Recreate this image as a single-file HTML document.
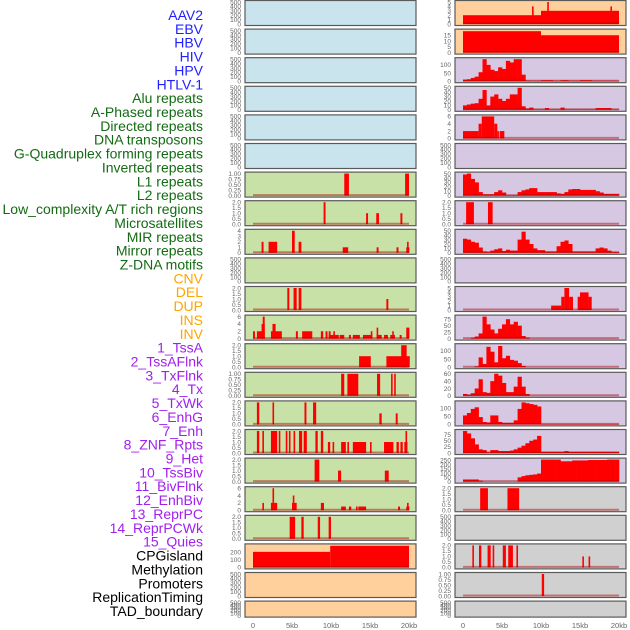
<!DOCTYPE html>
<html><head><meta charset="utf-8"><style>
html,body{margin:0;padding:0;background:#fff;width:630px;height:630px;overflow:hidden}
svg{display:block}
</style></head><body>
<svg id="chart" width="630" height="630" xmlns="http://www.w3.org/2000/svg" font-family="Liberation Sans, sans-serif"></svg>
<script>
// ---------- data ----------
const labels = ["AAV2","EBV","HBV","HIV","HPV","HTLV-1","Alu repeats","A-Phased repeats","Directed repeats","DNA transposons","G-Quadruplex forming repeats","Inverted repeats","L1 repeats","L2 repeats","Low_complexity A/T rich regions","Microsatellites","MIR repeats","Mirror repeats","Z-DNA motifs","CNV","DEL","DUP","INS","INV","1_TssA","2_TssAFlnk","3_TxFlnk","4_Tx","5_TxWk","6_EnhG","7_Enh","8_ZNF_Rpts","9_Het","10_TssBiv","11_BivFlnk","12_EnhBiv","13_ReprPC","14_ReprPCWk","15_Quies","CPGisland","Methylation","Promoters","ReplicationTiming","TAD_boundary"];
const labelGroups = [0,0,0,0,0,0,1,1,1,1,1,1,1,1,1,1,1,1,1,2,2,2,2,2,3,3,3,3,3,3,3,3,3,3,3,3,3,3,3,4,4,4,4,4];
const xTickLabels = ["0","5kb","10kb","15kb","20kb"];
const xTickValues = [0,5,10,15,20];

// segment tracks: [startKb, endKb, value]
const segL6 = [[11.7,12.3,1],[19.5,20,1]];
const segL7 = [[9.05,9.3,2],[14.5,14.75,1],[15.8,16.15,1],[18.9,19.15,1]];
const segL8 = [[1.1,1.35,2],[2.0,3.1,2],[5.0,5.35,4],[5.85,6.2,2],[11.5,12.2,1],[15.85,16.1,1],[18.4,18.65,1],[19.65,20.05,1],[19.75,19.85,2]];
const segL10 = [[4.4,4.65,2],[5.2,5.6,2],[5.85,6.2,2],[17.1,17.35,1]];
const segL11 = [[0,0.25,2],[0.5,1.5,2],[1.25,1.5,6],[1.1,1.5,4],[2.3,3.7,2],[2.5,2.9,4],[5.5,5.75,2],[6.3,7.6,2],[8.7,9.0,2],[9.3,9.55,2],[9.7,11.0,1],[9.7,9.95,2],[10.3,10.5,2],[11.1,11.7,1],[12.3,12.55,1],[12.8,13.7,1],[14.1,15.3,1],[15.1,15.3,2],[15.85,16.5,1],[15.85,16.05,3],[16.8,17.3,1],[17.6,18.2,1],[17.85,18.0,2],[18.8,19.05,1],[19.65,20.05,3]];
const segL12 = [[13.6,15.1,1],[17.1,20.1,1],[19.0,19.7,2]];
const segL13 = [[11.3,11.7,1],[12.1,13.5,1],[15.9,16.3,1],[17.7,17.9,1],[18.1,18.3,1]];
const segL14 = [[0.5,0.8,2],[2.5,2.7,2],[6.6,6.85,2],[7.7,8.1,2],[16.2,16.5,1],[18.3,18.55,1]];
const segL15 = [[0.5,0.8,2],[1.2,1.4,2],[2.3,3.1,2],[3.3,3.5,2],[4.2,4.4,2],[4.6,4.8,2],[5.2,5.4,2],[5.9,6.3,2],[6.5,6.9,2],[8.0,8.3,2],[8.7,9.0,2],[9.6,9.9,1],[10.2,10.4,1],[11.3,11.9,1],[12.1,12.3,1],[12.8,14.5,1],[15.0,15.2,1],[16.8,18.0,1],[18.4,18.7,1],[18.9,19.2,1],[19.4,19.8,1],[19.55,19.7,2]];
const segL16 = [[7.9,8.5,2],[10.9,11.3,1],[16.9,17.4,1]];
const segL17 = [[1.2,1.4,2],[2.3,3.1,2],[2.5,2.7,6],[5.0,5.6,2],[5.1,5.3,4],[8.7,9.1,2],[11.3,11.9,1],[12.3,12.6,1],[13.2,13.4,1],[13.5,14.5,1],[18.6,18.85,1],[19.65,20.05,1],[19.75,19.85,2]];
const segL18 = [[4.7,5.4,2],[6.2,6.5,2],[8.3,8.6,2],[9.7,10.0,2]];
const segL19 = [[0,9.9,205],[9.9,20,285]];
const segR0 = [[0,10,2],[10,20,3],[8.85,9.05,4],[10.8,11.0,5],[18.9,19.1,4]];
const segR1 = [[0,10,18.5],[10,20,15]];
const segR4 = [[0,2,2],[2,2.4,4],[2.4,4.0,6],[4.0,4.4,4],[4.4,4.5,2],[4.7,5.3,2]];
const segR7 = [[0.4,1.4,2],[3.2,3.8,2]];
const segR10 = [[11.3,12.6,1],[12.6,13.0,3],[13.0,13.6,5],[13.6,14.1,3],[14.7,15.0,3],[15.0,16.1,4],[16.1,16.5,3]];
const segR17 = [[2.2,3.2,2],[5.7,7.2,2]];
const segR19 = [[1.2,1.4,2],[2.05,2.35,2],[3.15,3.55,2],[3.8,4.0,2],[5.1,5.5,2],[5.8,6.4,2],[6.85,7.05,2],[15.3,15.5,1],[16.1,16.3,1]];
const segR20 = [[10.1,10.4,1]];

// binned profile tracks: 40 bins of 0.5kb
const binR2 = [10,12,20,28,55,135,100,70,62,85,75,125,115,135,135,40,4,3,3,3,6,6,6,3,3,6,6,3,3,3,6,6,6,3,3,3,3,3,3,3];
const binR3 = [10,12,14,15,25,45,10,30,35,25,20,25,35,35,50,8,3,5,1,1,1,4,1,1,1,5,1,1,1,1,1,1,1,1,4,4,4,4,1,1];
const binR6 = [48,50,38,30,8,3,3,3,8,12,7,1,1,1,8,12,14,17,17,8,8,8,8,8,5,4,8,14,15,15,13,13,13,13,10,7,4,4,4,4];
const binR8 = [32,30,25,23,12,3,2,5,8,10,4,7,5,5,30,48,30,20,10,6,6,3,3,3,15,25,28,20,3,3,3,3,3,3,10,12,10,5,2,2];
const binR11 = [0,0,3,8,20,85,55,35,20,38,55,75,55,65,50,10,4,0,0,0,0,0,0,0,0,0,0,0,0,0,0,0,0,0,0,0,0,0,0,0];
const binR12 = [0,0,0,5,60,20,125,95,30,130,55,70,45,40,25,8,0,0,0,0,0,0,0,0,0,0,0,0,0,0,0,0,0,0,0,0,0,0,0,0];
const binR13 = [5,3,7,20,45,10,8,40,60,55,35,10,10,25,52,25,5,0,0,0,0,0,0,0,0,0,0,0,0,0,0,0,0,0,0,0,0,0,0,0];
const binR14 = [55,70,95,105,45,15,12,55,55,15,10,10,10,25,95,135,130,125,120,110,3,3,3,3,3,3,3,3,3,3,3,3,3,3,3,3,3,3,3,3];
const binR15 = [90,80,60,35,15,12,3,12,12,8,8,8,10,15,22,30,40,50,55,70,5,5,5,5,5,5,8,5,5,5,5,5,5,5,5,5,5,5,5,5];
const binR16 = [25,25,25,25,10,0,0,0,0,0,0,0,0,0,50,65,75,80,85,95,260,260,260,260,260,240,240,240,250,250,250,250,255,255,255,255,255,260,260,260];

// tick label sets
const tEmpty = ["0","100","200","300","400","500"];
const t1 = ["0.00","0.25","0.50","0.75","1.00"];
const t2 = ["0.0","0.5","1.0","1.5","2.0"];
const t4 = ["0","1","2","3","4"];
const t5 = ["0","1","2","3","4","5"];
const t6 = ["0","2","4","6"];
const tCNV = ["0","100","200"];
const t15 = ["0","5","10","15"];
const t100 = ["0","50","100"];
const t50 = ["0","10","20","30","40","50"];
const t75 = ["0","25","50","75"];
const t60 = ["0","20","40","60"];
const t250 = ["0","50","100","150","200","250"];

// ---------- layout ----------
const svg = document.getElementById('chart');
const NS = 'http://www.w3.org/2000/svg';
const groupColors = ['#1f1fff','#136b13','#ffa500','#a020f0','#000000'];
const bgColors = ['#c9e4ec','#c8e1a7','#ffd09c','#d6c7e3','#d0d0d0'];
const colX = [245,455];
const panelW = 171;

function mk(tag, attrs){ const e=document.createElementNS(NS,tag); for(const k in attrs) e.setAttribute(k,attrs[k]); return e; }

// labels
labels.forEach((t,i)=>{
  const el = mk('text',{x:203,y:(20+i*13.86).toFixed(1),'text-anchor':'end','font-size':'14',fill:groupColors[labelGroups[i]]});
  el.textContent=t;
  
  
  svg.appendChild(el);
});

// panel specs, column-major order (index = label index)
const panels = labels.map((l,i)=>({idx:i,type:'empty',data:null,ymax:500,ticks:tEmpty}));
function setP(i,type,data,ymax,ticks){ panels[i].type=type; panels[i].data=data; panels[i].ymax=ymax; panels[i].ticks=ticks; }
setP(6,'seg',segL6,1,t1); setP(7,'seg',segL7,2,t2); setP(8,'seg',segL8,4,t4);
setP(10,'seg',segL10,2,t2); setP(11,'seg',segL11,6,t6); setP(12,'seg',segL12,2,t2);
setP(13,'seg',segL13,1,t1); setP(14,'seg',segL14,2,t2); setP(15,'seg',segL15,2,t2);
setP(16,'seg',segL16,2,t2); setP(17,'seg',segL17,6,t6); setP(18,'seg',segL18,2,t2);
setP(19,'seg',segL19,290,tCNV);
setP(22,'seg',segR0,5,t5); setP(23,'seg',segR1,19,t15);
setP(24,'bin',binR2,135,t100); setP(25,'bin',binR3,50,t50); setP(26,'seg',segR4,6,t6);
setP(28,'bin',binR6,50,t50); setP(29,'seg',segR7,2,t2); setP(30,'bin',binR8,50,t50);
setP(32,'seg',segR10,5,t5); setP(33,'bin',binR11,85,t75); setP(34,'bin',binR12,135,t100);
setP(35,'bin',binR13,60,t60); setP(36,'bin',binR14,135,t100); setP(37,'bin',binR15,90,t75);
setP(38,'bin',binR16,260,t250); setP(39,'seg',segR17,2,t2); setP(41,'seg',segR19,2,t2);
setP(42,'seg',segR20,1,t1);

panels.forEach(p=>{
  const col = p.idx<22?0:1, row = p.idx%22;
  const top = 0.5 + row*28.6;
  const h = row===21 ? 16 : 25;
  const x0 = colX[col];
  const X = kb => x0 + 8 + kb*7.8;
  const Y = v => (top+h-1.5) - (v/p.ymax)*(h-3);
  const g = mk('g',{});
  
  
  svg.appendChild(g);
  g.appendChild(mk('rect',{x:x0,y:top,width:panelW,height:h,fill:bgColors[labelGroups[p.idx]],stroke:'#5a5a5a','stroke-width':1.2}));
  // ticks
  const n = p.ticks.length;
  p.ticks.forEach((t,k)=>{
    const v = p.type==='empty' ? k*100 : parseFloat(t);
    const tl = mk('text',{x:x0-4,y:(Y(v)+2.3).toFixed(1),'text-anchor':'end','font-size':'6.5',fill:'#666'});
    tl.textContent=t;
    
    
    g.appendChild(tl);
  });
  if(p.type==='empty') return;
  if(p.type==='seg'){
    p.data.forEach(d=>{
      const w = Math.max(X(d[1])-X(d[0]),1.6);
      const r = mk('rect',{x:X(d[0]).toFixed(2),y:Y(d[2]).toFixed(2),width:w.toFixed(2),height:(Y(0)-Y(d[2])).toFixed(2),fill:'#ff0000'});
      
      
      g.appendChild(r);
    });
  } else {
    p.data.forEach((v,b)=>{
      if(v<=0) return;
      const r = mk('rect',{x:X(b*0.5).toFixed(2),y:Y(v).toFixed(2),width:(X(b*0.5+0.5)-X(b*0.5)+0.3).toFixed(2),height:(Y(0)-Y(v)).toFixed(2),fill:'#ff0000'});
      
      
      g.appendChild(r);
    });
  }
  const bl = mk('line',{x1:X(0),x2:X(20),y1:Y(0)-0.5,y2:Y(0)-0.5,stroke:'rgba(170,0,0,0.45)','stroke-width':2});
  
  
  g.appendChild(bl);
});

// x axes
[0,1].forEach(col=>{
  xTickValues.forEach((v,k)=>{
    const t = mk('text',{x:(colX[col]+8+v*7.8).toFixed(1),y:628,'text-anchor':'middle','font-size':'7.5',fill:'#666'});
    t.textContent = xTickLabels[k];
    
    
    svg.appendChild(t);
  });
});
</script>
</body></html>
